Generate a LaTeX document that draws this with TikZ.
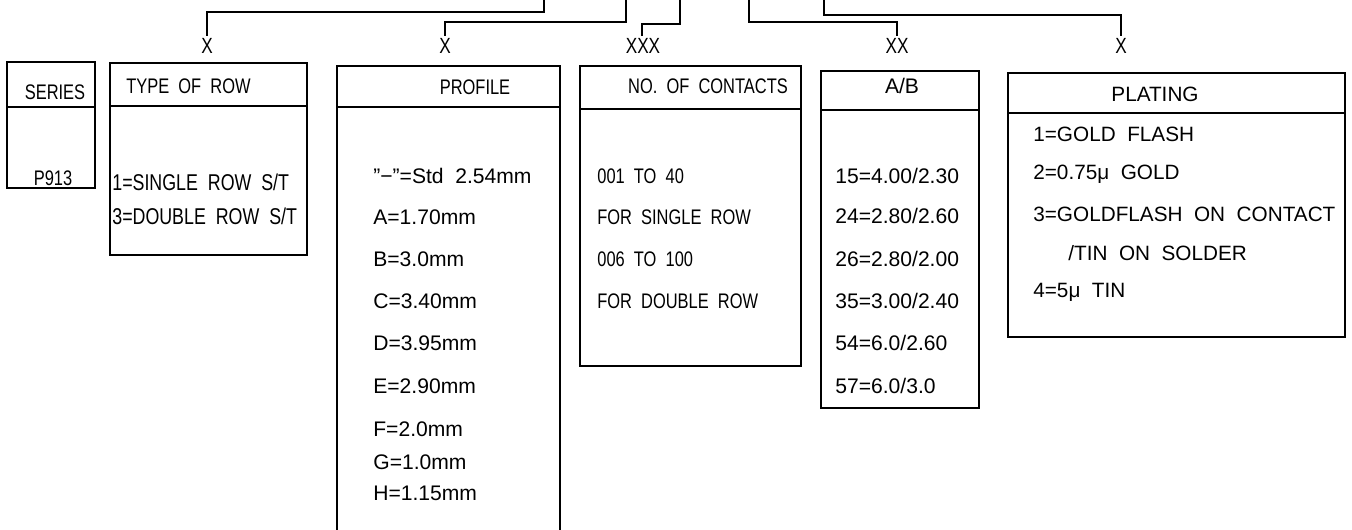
\documentclass[tikz,border=0pt]{standalone}
\usepackage{fontspec}
\setmainfont{Liberation Sans}[WordSpace=2]
\newfontfamily\cadnarrow{Liberation Sans}[FakeStretch=0.78,WordSpace=2]

\begin{document}
\begin{tikzpicture}[
		x=0.02cm, y=-0.02cm,
		every node/.style={inner sep=0pt},
		frame/.style={line width=1.1pt},
		link/.style={line width=1pt},
		head/.style={font=\cadnarrow\fontsize{12}{14}\selectfont},
		entry/.style={anchor=west, font=\fontsize{12}{14}\selectfont},
		narrowentry/.style={anchor=west, font=\cadnarrow\fontsize{12}{14}\selectfont},
		platingentry/.style={anchor=west, font=\fontsize{11.8}{14}\selectfont},
		code/.style={font=\cadnarrow\fontsize{12.5}{14}\selectfont, inner sep=1pt}
	]
	\clip (0,0) rectangle (1352,530);

	\coordinate (top1) at (544,0);
	\coordinate (top2) at (626,0);
	\coordinate (top3) at (680,0);
	\coordinate (top4) at (749,0);
	\coordinate (top5) at (824,0);
	\node[code] (mark1) at (207,46) {X};
	\node[code] (mark2) at (445,46) {X};
	\node[code] (mark3) at (643,46) {XXX};
	\node[code] (mark4) at (897,46) {XX};
	\node[code] (mark5) at (1121,46) {X};
	\draw[link] (top1) -- ++(0,12) -| (mark1.north);
	\draw[link] (top2) -- ++(0,22) -| (mark2.north);
	\draw[link] (top3) -- ++(0,24) -| ([xshift=-0.5pt]mark3.north);
	\draw[link] (top4) -- ++(0,22) -| (mark4.north);
	\draw[link] (top5) -- ++(0,15) -| (mark5.north);

	\draw[frame] (7,62) rectangle (95,188);
	\draw[frame] (7,107) -- (95,107);
	\node[head] (series) at (55,92) {SERIES};
	\node[head] (p913) at (53,178) {P913};

	\draw[frame] (110,63) rectangle (307,255);
	\draw[frame] (110,106) -- (307,106);
	\node[head, anchor=west] (rowtype) at (126,86) {TYPE OF ROW};
	\node[narrowentry, font=\cadnarrow\fontsize{13}{15}\selectfont] (single) at (112,182) {1=SINGLE ROW S/T};
	\node[narrowentry, font=\cadnarrow\fontsize{13}{15}\selectfont] (double) at (112,216) {3=DOUBLE ROW S/T};

	\draw[frame] (337,560) -- (337,66) -- (560,66) -- (560,560);
	\draw[frame] (337,107) -- (560,107);
	\node[head] (profile) at (475,87) {PROFILE};
	\node[entry] (std) at (373,176) {”−”=Std 2.54mm};
	\node[entry] (pa) at (373,217) {A=1.70mm};
	\node[entry] (pb) at (373,259) {B=3.0mm};
	\node[entry] (pc) at (373,301) {C=3.40mm};
	\node[entry] (pd) at (373,343) {D=3.95mm};
	\node[entry] (pe) at (373,386) {E=2.90mm};
	\node[entry] (pf) at (373,429) {F=2.0mm};
	\node[entry] (pg) at (373,462) {G=1.0mm};
	\node[entry] (ph) at (373,493) {H=1.15mm};

	\draw[frame] (580,66) rectangle (801,366);
	\draw[frame] (580,109) -- (801,109);
	\node[head] (contacts) at (708,86) {NO. OF CONTACTS};
	\node[narrowentry] (range1) at (597,176) {001 TO 40};
	\node[narrowentry] (for1) at (597,217) {FOR SINGLE ROW};
	\node[narrowentry] (range2) at (597,259) {006 TO 100};
	\node[narrowentry] (for2) at (597,301) {FOR DOUBLE ROW};

	\draw[frame] (821,71) rectangle (979,408);
	\draw[frame] (821,110) -- (979,110);
	\node[head, font=\fontsize{12}{14}\selectfont] (ab) at (902,86) {A/B};
	\node[entry] (ab15) at (835,176) {15=4.00/2.30};
	\node[entry] (ab24) at (835,216) {24=2.80/2.60};
	\node[entry] (ab26) at (835,259) {26=2.80/2.00};
	\node[entry] (ab35) at (835,301) {35=3.00/2.40};
	\node[entry] (ab54) at (835,343) {54=6.0/2.60};
	\node[entry] (ab57) at (835,386) {57=6.0/3.0};

	\draw[frame] (1008,73) rectangle (1345,337);
	\draw[frame] (1008,113) -- (1345,113);
	\node[platingentry, anchor=center] (plating) at (1155,94) {PLATING};
	\node[platingentry] (gold1) at (1033,134) {1=GOLD FLASH};
	\node[platingentry] (gold2) at (1033,174) {2=0.75μ GOLD};
	\node[platingentry] (gold3) at (1033,214) {3=GOLDFLASH ON CONTACT};
	\node[platingentry] (tin3) at (1068,253) {/TIN ON SOLDER};
	\node[platingentry] (tin4) at (1033,292) {4=5μ TIN};
\end{tikzpicture}
\end{document}
